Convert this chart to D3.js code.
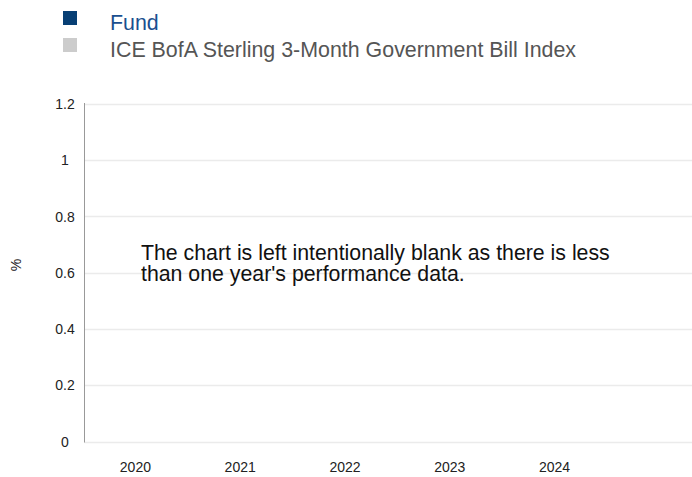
<!DOCTYPE html>
<html>
<head>
<meta charset="utf-8">
<script src="https://cdn.jsdelivr.net/npm/d3@7"></script>
<style>
  body { margin: 0; background: #fff; }
  svg { font-family: Arial, "Liberation Sans", sans-serif; }
</style>
</head>
<body>
<div id="chart"></div>
<script>
const years = ["2020", "2021", "2022", "2023", "2024"];
const yTicks = [0, 0.2, 0.4, 0.6, 0.8, 1, 1.2];
const seriesNames = ["Fund", "ICE BofA Sterling 3-Month Government Bill Index"];
const seriesColors = ["#073f74", "#cccccc"];
const seriesTextColors = ["#1a4f8f", "#555555"];
const fundValues = [];   // blank: less than one year's data
const indexValues = [];
const blankNote = ["The chart is left intentionally blank as there is less", "than one year's performance data."];

const W = 692, H = 477;
const plotLeft = 84.5, plotTop = 104, plotBottom = 441.5;

const svg = d3.select("#chart").append("svg")
    .attr("width", W)
    .attr("height", H);

// legend
const legend = svg.append("g");
seriesNames.forEach((name, i) => {
    legend.append("rect")
        .attr("x", 63).attr("y", 11 + i * 27)
        .attr("width", 14).attr("height", 14)
        .attr("fill", seriesColors[i]);
    legend.append("text")
        .attr("x", 110).attr("y", 30 + i * 27)
        .attr("font-size", 21.4)
        .attr("fill", seriesTextColors[i])
        .text(name);
});

const x = d3.scaleBand().domain(years).range([83, 607]);
const y = d3.scaleLinear().domain([0, 1.2]).range([plotBottom, plotTop]);

// gridlines
svg.append("g").selectAll("line")
    .data(yTicks)
    .enter().append("line")
    .attr("x1", plotLeft).attr("x2", W)
    .attr("y1", d => Math.round(y(d)) + 0.5)
    .attr("y2", d => Math.round(y(d)) + 0.5)
    .attr("stroke", "#ebebeb")
    .attr("stroke-width", 1.5);

// y axis line
svg.append("line")
    .attr("x1", plotLeft).attr("x2", plotLeft)
    .attr("y1", plotTop - 1).attr("y2", plotBottom + 1)
    .attr("stroke", "#999")
    .attr("stroke-width", 1);

// y tick labels
svg.append("g").selectAll("text")
    .data(yTicks)
    .enter().append("text")
    .attr("x", 65)
    .attr("y", d => y(d) + 5)
    .attr("text-anchor", "middle")
    .attr("font-size", 14)
    .attr("fill", "#222")
    .text(d => d3.format("~g")(d));

// x tick labels
svg.append("g").selectAll("text")
    .data(years)
    .enter().append("text")
    .attr("x", d => x(d) + x.bandwidth() / 2)
    .attr("y", 472)
    .attr("text-anchor", "middle")
    .attr("font-size", 14)
    .attr("fill", "#222")
    .text(d => d);

// y axis title
svg.append("text")
    .attr("transform", "translate(21,265) rotate(-90)")
    .attr("text-anchor", "middle")
    .attr("font-size", 14)
    .attr("fill", "#222")
    .text("%");

// blank-chart note
const note = svg.append("text")
    .attr("x", 141)
    .attr("y", 260)
    .attr("font-size", 21.3)
    .attr("fill", "#111");
blankNote.forEach((line, i) => {
    note.append("tspan")
        .attr("x", 141)
        .attr("dy", i === 0 ? 0 : 21)
        .text(line);
});
</script>
</body>
</html>
